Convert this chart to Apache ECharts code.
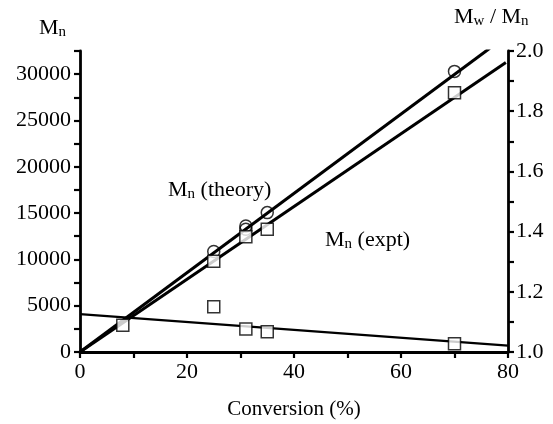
<!DOCTYPE html>
<html>
<head>
<meta charset="utf-8">
<script src="https://cdn.jsdelivr.net/npm/echarts@6/dist/echarts.min.js"></script>
<style>
html,body{margin:0;padding:0;background:#fff;}
#c{width:553px;height:424px;}
</style>
</head>
<body>
<div id="c"></div>
<script>
// ---- data ----
var theoryConv = [25, 31, 31, 35, 70];
var theoryMn = [10850, 13250, 13600, 15050, 30300];
var exptConv = [8, 25, 31, 35, 70];
var exptMn = [2900, 9800, 12450, 13250, 28000];
var pdiConv = [25, 31, 35, 70];
var pdiVal = [1.150, 1.076, 1.067, 1.027];
var theoryFitX = [0, 76.6];
var theoryFitY = [0, 32800];
var exptFitX = [0, 79.6];
var exptFitY = [0, 31250];
var pdiFitX = [0, 80];
var pdiFitY = [1.126, 1.021];
var xTicks = [0, 20, 40, 60, 80];
var mnTicks = [0, 5000, 10000, 15000, 20000, 25000, 30000];
var pdiTicks = [1.0, 1.2, 1.4, 1.6, 1.8, 2.0];

function zip(a, b) { return a.map(function (v, i) { return [v, b[i]]; }); }

var FONT = "'Liberation Serif','Times New Roman',serif";
var chart = echarts.init(document.getElementById('c'));
var axisLine = { show: true, onZero: false, lineStyle: { color: '#000', width: 2.8 } };
var tick = { show: true, inside: false, length: 6, lineStyle: { color: '#000', width: 2.2 } };
var rich = {
  m: { fontFamily: FONT, fontSize: 22, fill: '#000' },
  s: { fontFamily: FONT, fontSize: 15, fill: '#000', padding: [9, 0, 0, 0] }
};

chart.setOption({
  animation: false,
  backgroundColor: '#fff',
  grid: { left: 80, right: 45, top: 51, bottom: 72, containLabel: false },
  xAxis: {
    type: 'value', min: 0, max: 80, interval: 10,
    axisLine: axisLine, axisTick: tick, splitLine: { show: false },
    axisLabel: {
      color: '#000', fontFamily: FONT, fontSize: 22, margin: 9,
      formatter: function (v) { return xTicks.indexOf(v) >= 0 ? String(v) : ''; }
    }
  },
  yAxis: [{
    type: 'value', min: 0, max: 32500, interval: 2500,
    axisLine: axisLine, axisTick: tick, splitLine: { show: false },
    axisLabel: {
      color: '#000', fontFamily: FONT, fontSize: 22, margin: 9,
      formatter: function (v) { return mnTicks.indexOf(v) >= 0 ? String(v) : ''; }
    }
  }, {
    type: 'value', min: 1.0, max: 2.0, interval: 0.1, position: 'right',
    axisLine: axisLine, axisTick: tick, splitLine: { show: false },
    axisLabel: {
      color: '#000', fontFamily: FONT, fontSize: 22, margin: 8,
      formatter: function (v) {
        var r = Math.round(v * 10) / 10;
        for (var i = 0; i < pdiTicks.length; i++) if (Math.abs(pdiTicks[i] - r) < 1e-6) return r.toFixed(1);
        return '';
      }
    }
  }],
  series: [
    { type: 'line', data: zip(theoryFitX, theoryFitY), symbol: 'none', lineStyle: { color: '#000', width: 3 }, z: 2 },
    { type: 'line', data: zip(exptFitX, exptFitY), symbol: 'none', lineStyle: { color: '#000', width: 3 }, z: 2 },
    { type: 'line', yAxisIndex: 1, data: zip(pdiFitX, pdiFitY), symbol: 'none', lineStyle: { color: '#000', width: 2.2 }, z: 2 },
    { type: 'scatter', data: zip(theoryConv, theoryMn), symbol: 'circle', symbolSize: 12,
      itemStyle: { color: 'rgba(255,255,255,0)', borderColor: '#000', borderWidth: 1.5 }, z: 5 },
    { type: 'scatter', data: zip(exptConv, exptMn), symbol: 'rect', symbolSize: 12,
      itemStyle: { color: '#fff', borderColor: '#000', borderWidth: 1.5 }, z: 5 },
    { type: 'scatter', yAxisIndex: 1, data: zip(pdiConv, pdiVal), symbol: 'rect', symbolSize: 12,
      itemStyle: { color: '#fff', borderColor: '#000', borderWidth: 1.5 }, z: 5 }
  ],
  graphic: [
    { type: 'text', left: 39, top: 17, style: { text: '{m|M}{s|n}', rich: rich } },
    { type: 'text', left: 454, top: 6, style: { text: '{m|M}{s|w}{m| / M}{s|n}', rich: rich } },
    { type: 'text', left: 168, top: 179, style: { text: '{m|M}{s|n}{m| (theory)}', rich: rich } },
    { type: 'text', left: 325, top: 229, style: { text: '{m|M}{s|n}{m| (expt)}', rich: rich } },
    { type: 'text', x: 294, y: 409, style: { text: 'Conversion (%)', fontFamily: FONT, fontSize: 21, fill: '#000', align: 'center', verticalAlign: 'middle' } }
  ]
});
</script>
</body>
</html>
